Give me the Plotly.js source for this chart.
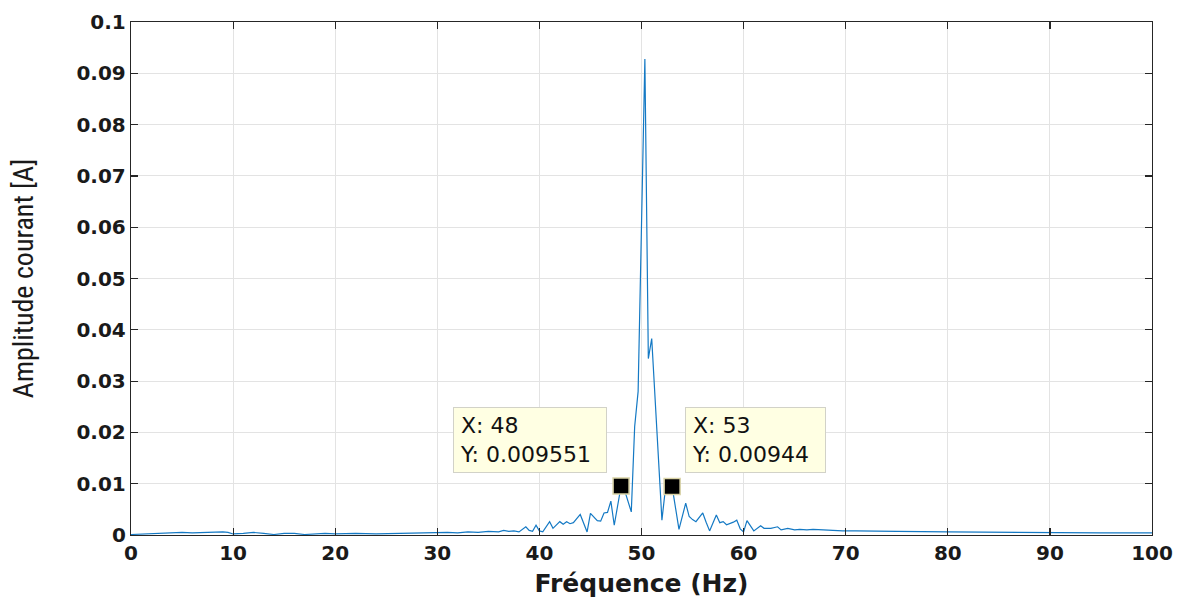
<!DOCTYPE html>
<html>
<head>
<meta charset="utf-8">
<script src="https://cdn.plot.ly/plotly-3.0.1.min.js"></script>
<style>html,body{margin:0;padding:0;background:#fff;}#chart{width:1180px;height:603px;}</style>
</head>
<body>
<div id="chart"></div>
<script>
// Spectrum samples (frequency in Hz, amplitude in A)
const freq = [0, 1, 2, 3, 4, 5, 6, 7, 8, 9, 9.5, 10, 11, 12, 13, 14, 15, 16, 17, 18, 19, 20, 22, 24, 26, 28, 30, 31, 32, 33, 34, 35, 36, 36.5, 37, 37.5, 38, 38.67, 39, 39.33, 39.67, 40, 40.33, 41, 41.33, 42, 42.33, 42.67, 43, 43.33, 44, 44.67, 45, 45.33, 45.67, 46, 46.33, 46.67, 47, 47.33, 48, 48.33, 49, 49.33, 49.67, 50.33, 50.67, 51, 52, 52.33, 53, 53.67, 54.33, 54.67, 55, 55.33, 56, 56.33, 56.67, 57.33, 57.67, 58, 58.33, 59, 59.33, 59.67, 60, 60.33, 61, 61.67, 62, 62.67, 63.33, 63.67, 64.33, 65, 65.5, 66.2, 66.8, 67.8, 68.7, 69.7, 71, 72, 75, 80, 85, 90, 95, 100];
const amp = [0.0001, 0.0002, 0.0003, 0.0004, 0.0005, 0.0005, 0.0004, 0.0005, 0.0006, 0.0006, 0.0005, 0.0002, 0.0003, 0.0005, 0.0003, 0.0001, 0.0003, 0.0003, 0.0001, 0.0002, 0.0003, 0.0002, 0.0003, 0.0002, 0.0003, 0.0003, 0.0004, 0.0005, 0.0004, 0.0006, 0.0005, 0.0007, 0.0006, 0.0009, 0.0007, 0.0008, 0.0006, 0.0016, 0.0009, 0.0007, 0.0019, 0.0008, 0.0006, 0.0026, 0.0013, 0.0026, 0.0021, 0.0026, 0.0022, 0.0024, 0.0040, 0.0006, 0.0042, 0.0035, 0.0028, 0.0027, 0.0043, 0.0044, 0.0066, 0.0019, 0.009551, 0.0088, 0.0045, 0.0211, 0.0280, 0.0928, 0.0344, 0.0383, 0.0029, 0.0088, 0.00944, 0.0011, 0.0062, 0.0036, 0.0030, 0.0026, 0.0043, 0.0025, 0.0008, 0.0039, 0.0024, 0.0026, 0.0020, 0.0025, 0.0029, 0.0012, 0.0006, 0.0028, 0.0008, 0.0018, 0.0013, 0.0013, 0.0016, 0.0010, 0.0013, 0.0010, 0.0011, 0.0010, 0.0011, 0.0010, 0.0009, 0.0008, 0.0008, 0.0008, 0.0007, 0.0006, 0.0005, 0.0005, 0.0004, 0.0004];

// Data tips
const tipX = [48, 53];
const tipY = [0.009551, 0.00944];

// Axis ticks
const xTicks = [0, 10, 20, 30, 40, 50, 60, 70, 80, 90, 100];
const yTicks = [0, 0.01, 0.02, 0.03, 0.04, 0.05, 0.06, 0.07, 0.08, 0.09, 0.1];
const yTickText = ['0', '0.01', '0.02', '0.03', '0.04', '0.05', '0.06', '0.07', '0.08', '0.09', '0.1'];

const traces = [
  {x: freq, y: amp, type: 'scatter', mode: 'lines',
   line: {color: '#1479c4', width: 1.2}, hoverinfo: 'x+y'},
  {x: tipX, y: tipY, type: 'scatter', mode: 'markers',
   marker: {symbol: 'square', size: 16, color: '#000000', line: {color: '#d9d3a6', width: 1.5}},
   hoverinfo: 'x+y'}
];

const tipBox = {
  xref: 'x', yref: 'y', showarrow: false, xanchor: 'left', yanchor: 'top', align: 'left',
  bgcolor: '#ffffe3', bordercolor: '#d2d2c8', borderwidth: 1, borderpad: 6,
  font: {family: 'DejaVu Sans, Arial, sans-serif', size: 22, color: '#111111'}
};

const annotations = [
  Object.assign({}, tipBox, {x: 31.54, y: 0.0249, width: 140, height: 52,
    text: 'X: ' + tipX[0] + '<br>Y: ' + tipY[0]}),
  Object.assign({}, tipBox, {x: 54.26, y: 0.0249, width: 127, height: 52,
    text: 'X: ' + tipX[1] + '<br>Y: ' + tipY[1]})
];

const axisCommon = {
  showline: true, linecolor: '#262626', linewidth: 1.2, mirror: 'ticks',
  ticks: 'inside', ticklen: 7, tickcolor: '#262626', tickwidth: 1.2,
  showgrid: true, gridcolor: '#e3e3e3', gridwidth: 1, zeroline: false,
  tickfont: {family: 'DejaVu Sans, Arial, sans-serif', size: 20, color: '#1a1a1a', weight: 'bold'}
};

const layout = {
  width: 1180, height: 603,
  margin: {l: 131, r: 28, t: 22, b: 68},
  paper_bgcolor: '#ffffff', plot_bgcolor: '#ffffff',
  showlegend: false,
  xaxis: Object.assign({}, axisCommon, {
    range: [0, 100], tickvals: xTicks, ticktext: xTicks.map(String),
    title: {text: 'Fréquence (Hz)', standoff: 10,
      font: {family: 'DejaVu Sans, Arial, sans-serif', size: 25, color: '#1a1a1a', weight: 'bold'}}
  }),
  yaxis: Object.assign({}, axisCommon, {
    range: [0, 0.1], tickvals: yTicks, ticktext: yTickText,
    title: {text: 'Amplitude courant [A]', standoff: 34,
      font: {family: 'Liberation Sans Narrow, Arial Narrow, Roboto Condensed, sans-serif', size: 28, color: '#1a1a1a'}}
  }),
  annotations: annotations
};

Plotly.newPlot('chart', traces, layout, {displayModeBar: false, staticPlot: true});
</script>
</body>
</html>
